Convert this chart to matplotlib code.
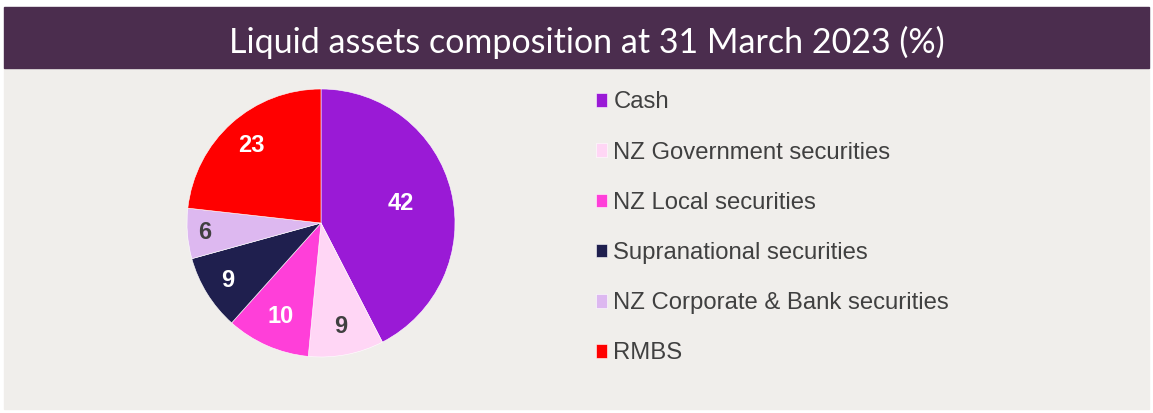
import numpy as np
import matplotlib.pyplot as plt
from matplotlib.patches import Rectangle

plt.rcParams['font.family'] = ['Liberation Sans', 'DejaVu Sans']

title = 'Liquid assets composition at 31 March 2023 (%)'
categories = ['Cash', 'NZ Government securities', 'NZ Local securities',
              'Supranational securities', 'NZ Corporate & Bank securities', 'RMBS']
values = [42, 9, 10, 9, 6, 23]
colors = ['#9A1AD6', '#FFD6F5', '#FF3FD9', '#1F1F4E', '#DDB8F0', '#FF0000']
label_colors = ['white', '#404040', 'white', 'white', '#404040', 'white']
# how far out each data label sits (fraction of radius), like Excel best fit
label_dist = [0.61, 0.79, 0.76, 0.82, 0.87, 0.78]

W, H = 1153, 413
fig = plt.figure(figsize=(W / 100, H / 100), dpi=100, facecolor='white')

# banner and panel backgrounds (pixel boxes -> figure fractions)
fig.patches.append(Rectangle((4 / W, (H - 409) / H), 1145 / W, 341 / H,
                             transform=fig.transFigure, color='#F0EEEB', zorder=-10))
fig.patches.append(Rectangle((4 / W, (H - 68) / H), 1145 / W, 61 / H,
                             transform=fig.transFigure, color='#4B2D4E', zorder=-10))
fig.text(587 / W, (H - 42) / H, title, color='white', fontsize=24.5,
         family=['Lato', 'DejaVu Sans'], ha='center', va='center')

cx, cy, r = 321, 223, 134
ax = fig.add_axes([(cx - r) / W, (H - cy - r) / H, 2 * r / W, 2 * r / H])
ax.set_zorder(5)
ax.set_facecolor('none')
wedges, _ = ax.pie(values, colors=colors, startangle=90, counterclock=False,
                   wedgeprops=dict(edgecolor='white', linewidth=0.4))
for w, v, c, d in zip(wedges, values, label_colors, label_dist):
    mid = np.deg2rad((w.theta1 + w.theta2) / 2)
    ax.text(d * np.cos(mid), d * np.sin(mid), str(v), color=c, fontsize=17,
            fontweight='bold', ha='center', va='center')
ax.set_xlim(-1.0, 1.0)
ax.set_ylim(-1.0, 1.0)
ax.axis('off')

leg = fig.legend(wedges, categories, loc='upper left',
                 bbox_to_anchor=(574 / W, (H - 70) / H), frameon=False,
                 fontsize=17.2, handlelength=0.5, handleheight=0.5,
                 handletextpad=0.25, labelspacing=1.18)
for t in leg.get_texts():
    t.set_color('#404040')

fig.savefig('out.png', dpi=100, facecolor='white')
